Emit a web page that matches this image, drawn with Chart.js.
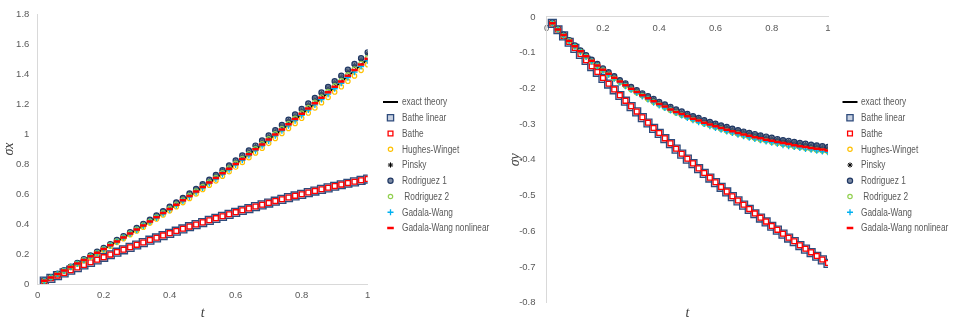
<!DOCTYPE html>
<html>
<head>
<meta charset="utf-8">
<script src="https://cdn.jsdelivr.net/npm/chart.js@4.4.1/dist/chart.umd.min.js"></script>
<style>
  html, body { margin: 0; padding: 0; background: #ffffff; }
  #wrap { position: relative; width: 956px; height: 323px; overflow: hidden; background: #ffffff; }
  #chartX { position: absolute; left: 0; top: 0; }
  #chartY { position: absolute; left: 505px; top: 0; }
</style>
</head>
<body>
<div id="wrap">
  <canvas id="chartX" width="505" height="323" style="width:505px;height:323px"></canvas>
  <canvas id="chartY" width="451" height="323" style="width:451px;height:323px"></canvas>
</div>
<script>
// time samples
const t = [0.02,0.04,0.06,0.08,0.10,0.12,0.14,0.16,0.18,0.20,0.22,0.24,0.26,0.28,0.30,0.32,0.34,0.36,0.38,0.40,
           0.42,0.44,0.46,0.48,0.50,0.52,0.54,0.56,0.58,0.60,0.62,0.64,0.66,0.68,0.70,0.72,0.74,0.76,0.78,0.80,
           0.82,0.84,0.86,0.88,0.90,0.92,0.94,0.96,0.98,1.00];

const seriesNames = ['exact theory', 'Bathe linear', 'Bathe', 'Hughes-Winget', 'Pinsky',
                     'Rodriguez 1', ' Rodriguez 2', 'Gadala-Wang', 'Gadala-Wang nonlinear'];

// sigma x
const sxExact = [0.022,0.044,0.067,0.089,0.113,0.136,0.160,0.184,0.209,0.233,0.258,0.284,0.310,0.336,0.362,0.389,0.416,0.444,0.472,0.500,
                 0.528,0.557,0.586,0.616,0.646,0.676,0.706,0.737,0.768,0.800,0.832,0.864,0.896,0.929,0.962,0.996,1.030,1.064,1.098,1.133,
                 1.169,1.204,1.240,1.276,1.313,1.349,1.387,1.424,1.462,1.500];
const sxBatheLinear = [0.019,0.037,0.056,0.074,0.092,0.109,0.127,0.144,0.161,0.178,0.195,0.212,0.228,0.244,0.260,0.276,0.292,0.307,0.323,0.338,
                       0.352,0.367,0.382,0.396,0.410,0.424,0.438,0.451,0.464,0.478,0.491,0.503,0.516,0.528,0.540,0.552,0.564,0.576,0.587,0.598,
                       0.609,0.620,0.631,0.641,0.652,0.662,0.672,0.681,0.691,0.700];
const sxBathe = [0.019,0.038,0.056,0.074,0.092,0.110,0.127,0.145,0.162,0.179,0.196,0.213,0.229,0.245,0.261,0.277,0.293,0.308,0.324,0.339,
                 0.353,0.368,0.383,0.397,0.411,0.425,0.439,0.452,0.465,0.479,0.492,0.504,0.517,0.529,0.541,0.553,0.565,0.577,0.588,0.599,
                 0.610,0.621,0.632,0.642,0.653,0.663,0.673,0.682,0.692,0.701];
const sxHughesWinget = [0.021,0.043,0.065,0.087,0.110,0.133,0.156,0.179,0.204,0.227,0.252,0.277,0.302,0.328,0.353,0.379,0.406,0.433,0.460,0.488,
                        0.515,0.543,0.571,0.601,0.630,0.659,0.688,0.719,0.749,0.780,0.811,0.842,0.874,0.906,0.938,0.971,1.004,1.037,1.071,1.105,
                        1.140,1.174,1.209,1.244,1.280,1.315,1.352,1.388,1.425,1.463];
const sxPinsky = [0.023,0.045,0.069,0.091,0.116,0.139,0.164,0.188,0.214,0.239,0.264,0.291,0.317,0.344,0.371,0.398,0.426,0.455,0.483,0.512,
                  0.541,0.570,0.600,0.631,0.662,0.692,0.723,0.755,0.786,0.819,0.852,0.885,0.918,0.951,0.985,1.020,1.055,1.090,1.124,1.160,
                  1.197,1.233,1.270,1.307,1.345,1.381,1.420,1.458,1.497,1.536];
const sxRodriguez1 = [0.023,0.045,0.069,0.092,0.116,0.140,0.165,0.190,0.215,0.240,0.266,0.293,0.319,0.346,0.373,0.401,0.428,0.457,0.486,0.515,
                      0.544,0.574,0.604,0.634,0.665,0.696,0.727,0.759,0.791,0.824,0.857,0.890,0.923,0.957,0.991,1.026,1.061,1.096,1.131,1.167,
                      1.204,1.240,1.277,1.314,1.352,1.389,1.429,1.467,1.506,1.545];
const sxRodriguez2 = [0.022,0.044,0.067,0.090,0.114,0.137,0.161,0.185,0.210,0.234,0.260,0.286,0.312,0.338,0.364,0.391,0.418,0.447,0.475,0.503,
                      0.531,0.560,0.590,0.620,0.650,0.680,0.710,0.741,0.773,0.805,0.837,0.869,0.901,0.935,0.968,1.002,1.036,1.070,1.105,1.140,
                      1.176,1.211,1.247,1.284,1.321,1.357,1.395,1.433,1.471,1.509];
const sxGadalaWang = [0.022,0.044,0.066,0.088,0.112,0.135,0.159,0.183,0.207,0.231,0.256,0.282,0.308,0.333,0.359,0.386,0.413,0.440,0.468,0.496,
                      0.524,0.553,0.581,0.611,0.641,0.671,0.700,0.731,0.762,0.794,0.825,0.857,0.889,0.922,0.954,0.988,1.022,1.055,1.089,1.124,
                      1.160,1.194,1.230,1.266,1.302,1.338,1.376,1.413,1.450,1.488];
const sxGadalaWangNonlinear = [0.022,0.044,0.067,0.090,0.113,0.137,0.160,0.185,0.209,0.234,0.259,0.284,0.310,0.336,0.363,0.390,0.417,0.445,0.473,0.501,
                               0.529,0.558,0.587,0.617,0.647,0.677,0.707,0.738,0.769,0.801,0.833,0.865,0.898,0.930,0.964,0.997,1.031,1.066,1.100,1.135,
                               1.171,1.206,1.242,1.278,1.315,1.351,1.389,1.427,1.464,1.503];

// sigma y
const syExact = [-0.018,-0.035,-0.051,-0.066,-0.081,-0.095,-0.109,-0.122,-0.134,-0.146,-0.158,-0.169,-0.179,-0.189,-0.199,-0.208,-0.217,-0.226,-0.234,-0.241,
                 -0.249,-0.256,-0.263,-0.269,-0.276,-0.282,-0.288,-0.293,-0.298,-0.303,-0.308,-0.313,-0.317,-0.322,-0.326,-0.330,-0.333,-0.337,-0.340,-0.344,
                 -0.347,-0.350,-0.353,-0.355,-0.358,-0.361,-0.363,-0.365,-0.368,-0.370];
const syBatheLinear = [-0.018,-0.036,-0.053,-0.071,-0.088,-0.105,-0.122,-0.139,-0.155,-0.172,-0.188,-0.204,-0.220,-0.236,-0.251,-0.266,-0.282,-0.297,-0.312,-0.326,
                       -0.341,-0.355,-0.370,-0.384,-0.398,-0.411,-0.425,-0.438,-0.451,-0.464,-0.477,-0.490,-0.503,-0.515,-0.527,-0.539,-0.551,-0.563,-0.574,-0.586,
                       -0.597,-0.608,-0.619,-0.629,-0.640,-0.650,-0.660,-0.670,-0.680,-0.690];
const syBathe = [-0.018,-0.035,-0.053,-0.070,-0.087,-0.104,-0.121,-0.138,-0.154,-0.171,-0.187,-0.203,-0.219,-0.235,-0.250,-0.265,-0.281,-0.296,-0.311,-0.325,
                 -0.340,-0.354,-0.369,-0.383,-0.397,-0.410,-0.424,-0.437,-0.450,-0.463,-0.476,-0.489,-0.502,-0.514,-0.526,-0.538,-0.550,-0.562,-0.573,-0.585,
                 -0.596,-0.607,-0.618,-0.628,-0.639,-0.649,-0.659,-0.669,-0.679,-0.689];
const syHughesWinget = [-0.018,-0.035,-0.052,-0.067,-0.082,-0.097,-0.111,-0.124,-0.137,-0.149,-0.161,-0.172,-0.182,-0.193,-0.203,-0.212,-0.221,-0.230,-0.238,-0.246,
                        -0.253,-0.261,-0.268,-0.274,-0.281,-0.287,-0.293,-0.298,-0.304,-0.309,-0.314,-0.319,-0.323,-0.327,-0.332,-0.336,-0.339,-0.343,-0.346,-0.350,
                        -0.353,-0.356,-0.359,-0.362,-0.365,-0.367,-0.370,-0.372,-0.374,-0.377];
const syPinsky = [-0.017,-0.034,-0.050,-0.065,-0.080,-0.094,-0.108,-0.121,-0.133,-0.145,-0.156,-0.167,-0.177,-0.187,-0.197,-0.206,-0.215,-0.223,-0.231,-0.239,
                  -0.246,-0.253,-0.260,-0.267,-0.273,-0.279,-0.284,-0.290,-0.295,-0.300,-0.305,-0.309,-0.314,-0.318,-0.322,-0.326,-0.330,-0.333,-0.337,-0.340,
                  -0.343,-0.346,-0.349,-0.352,-0.354,-0.357,-0.359,-0.361,-0.364,-0.366];
const syRodriguez1 = [-0.017,-0.034,-0.050,-0.065,-0.080,-0.094,-0.107,-0.120,-0.132,-0.144,-0.155,-0.166,-0.177,-0.186,-0.196,-0.205,-0.214,-0.222,-0.230,-0.238,
                      -0.245,-0.252,-0.259,-0.265,-0.272,-0.278,-0.283,-0.289,-0.294,-0.299,-0.304,-0.308,-0.313,-0.317,-0.321,-0.325,-0.328,-0.332,-0.335,-0.338,
                      -0.342,-0.345,-0.347,-0.350,-0.353,-0.355,-0.358,-0.360,-0.362,-0.364];
const syRodriguez2 = [-0.018,-0.035,-0.052,-0.067,-0.083,-0.097,-0.111,-0.124,-0.137,-0.149,-0.161,-0.172,-0.183,-0.193,-0.203,-0.212,-0.221,-0.230,-0.238,-0.246,
                      -0.254,-0.261,-0.268,-0.275,-0.281,-0.287,-0.293,-0.299,-0.304,-0.309,-0.314,-0.319,-0.324,-0.328,-0.332,-0.336,-0.340,-0.344,-0.347,-0.351,
                      -0.354,-0.357,-0.360,-0.363,-0.365,-0.368,-0.370,-0.373,-0.375,-0.377];
const syGadalaWang = [-0.018,-0.035,-0.052,-0.068,-0.083,-0.098,-0.112,-0.125,-0.138,-0.150,-0.162,-0.173,-0.184,-0.194,-0.204,-0.213,-0.223,-0.231,-0.240,-0.248,
                      -0.255,-0.262,-0.269,-0.276,-0.283,-0.289,-0.295,-0.300,-0.306,-0.311,-0.316,-0.321,-0.325,-0.330,-0.334,-0.338,-0.342,-0.345,-0.349,-0.352,
                      -0.355,-0.359,-0.362,-0.364,-0.367,-0.370,-0.372,-0.375,-0.377,-0.379];
const syGadalaWangNonlinear = [-0.018,-0.035,-0.051,-0.067,-0.082,-0.096,-0.110,-0.123,-0.136,-0.148,-0.159,-0.170,-0.181,-0.191,-0.201,-0.210,-0.219,-0.228,-0.236,-0.244,
                               -0.251,-0.259,-0.266,-0.272,-0.278,-0.285,-0.290,-0.296,-0.301,-0.306,-0.311,-0.316,-0.320,-0.325,-0.329,-0.333,-0.337,-0.340,-0.344,-0.347,
                               -0.350,-0.353,-0.356,-0.359,-0.362,-0.364,-0.367,-0.369,-0.371,-0.374];

// tick settings
const xTicks = { min: 0, max: 1, step: 0.2 };
const sxTicks = { min: 0, max: 1.8, step: 0.2 };
const syTicks = { min: -0.8, max: 0, step: 0.1 };

// marker styles, in series order
const markerStyles = [
  { line: true, color: '#000000', width: 2 },
  { pointStyle: 'rect',   radius: 5.6, border: '#2E4B7C', fill: 'rgba(186,198,218,0.8)', bw: 1.3 },
  { pointStyle: 'rect',   radius: 3.4, border: '#FF0000', fill: '#FFFFFF', bw: 1.3 },
  { pointStyle: 'circle', radius: 2.2, border: '#FFC000', fill: 'rgba(255,255,255,0)', bw: 1.2 },
  { pointStyle: 'star',   radius: 2.6, border: '#000000', fill: 'rgba(0,0,0,0)', bw: 1.0 },
  { pointStyle: 'circle', radius: 2.6, border: '#203864', fill: 'rgba(80,100,135,0.75)', bw: 1.2 },
  { pointStyle: 'circle', radius: 2.2, border: '#92D050', fill: 'rgba(255,255,255,0)', bw: 1.2 },
  { pointStyle: 'cross',  radius: 3.0, border: '#00B0F0', fill: 'rgba(0,0,0,0)', bw: 1.3 },
  { pointStyle: 'line',   radius: 3.3, border: '#FF0000', fill: 'rgba(0,0,0,0)', bw: 2.5 }
];

const textGray = '#595959';
const axisGray = '#D9D9D9';
const tickFont = { family: "'Liberation Sans', sans-serif", size: 9.5 };
const titleFont = { family: "'Liberation Serif', 'DejaVu Serif', serif", size: 14, style: 'italic' };
const legendFontCss = "10px 'Liberation Sans', sans-serif";
const legendSquash = 0.83;

// "1" rather than "1.0", "-0.1" for negatives
function tickText(value) {
  return String(parseFloat(Number(value).toFixed(2)));
}

function buildDatasets(seriesList) {
  const n = seriesList.length;
  return seriesList.map((values, i) => {
    const s = markerStyles[i];
    const data = t.map((x, k) => ({ x: x, y: values[k] }));
    if (s.line) {
      return {
        label: seriesNames[i], data, showLine: true, borderColor: s.color,
        borderWidth: s.width, pointRadius: 0, tension: 0, order: n - i, isLine: true
      };
    }
    return {
      label: seriesNames[i], data, showLine: false,
      pointStyle: s.pointStyle, pointRadius: s.radius, pointHoverRadius: s.radius,
      pointBorderColor: s.border, pointBackgroundColor: s.fill, pointBorderWidth: s.bw,
      borderColor: s.border, backgroundColor: s.fill, order: n - i
    };
  });
}

// legend drawn beside each plot: symbol column plus label column
const sideLegend = {
  id: 'sideLegend',
  afterDraw(chart, args, opts) {
    const ctx = chart.ctx;
    ctx.save();
    chart.data.datasets.forEach((ds, i) => {
      const y = opts.top + i * opts.step;
      if (ds.isLine) {
        ctx.strokeStyle = ds.borderColor;
        ctx.lineWidth = ds.borderWidth;
        ctx.beginPath();
        ctx.moveTo(opts.symX - 7.5, y);
        ctx.lineTo(opts.symX + 7.5, y);
        ctx.stroke();
      } else {
        ctx.strokeStyle = ds.pointBorderColor;
        ctx.fillStyle = ds.pointBackgroundColor;
        ctx.lineWidth = ds.pointBorderWidth;
        Chart.helpers.drawPoint(ctx, {
          pointStyle: ds.pointStyle, radius: Math.min(ds.pointRadius, 4.4),
          borderWidth: ds.pointBorderWidth, rotation: 0
        }, opts.symX, y);
      }
      ctx.save();
      ctx.translate(opts.textX, y + 0.5);
      ctx.scale(legendSquash, 1);
      ctx.font = legendFontCss;
      ctx.textBaseline = 'middle';
      ctx.textAlign = 'left';
      ctx.fillStyle = textGray;
      ctx.fillText(ds.label, 0, 0);
      ctx.restore();
    });
    ctx.restore();
  }
};

// sigma x chart
new Chart(document.getElementById('chartX'), {
  type: 'scatter',
  data: {
    datasets: buildDatasets([sxExact, sxBatheLinear, sxBathe, sxHughesWinget, sxPinsky,
                             sxRodriguez1, sxRodriguez2, sxGadalaWang, sxGadalaWangNonlinear])
  },
  options: {
    responsive: false,
    animation: false,
    events: [],
    layout: { padding: { left: 0, right: 137.3, top: 10, bottom: 0 } },
    plugins: {
      legend: { display: false },
      tooltip: { enabled: false },
      sideLegend: { top: 102, step: 15.75, symX: 390.5, textX: 402 }
    },
    scales: {
      x: {
        type: 'linear', min: xTicks.min, max: xTicks.max,
        ticks: { stepSize: xTicks.step, color: textGray, font: tickFont, padding: 6, maxRotation: 0, callback: tickText },
        grid: { display: false, drawTicks: false },
        border: { display: true, color: axisGray, width: 1 },
        title: { display: true, text: 't', color: '#404040', font: titleFont, padding: { top: 0, bottom: 1.6 } },
        afterFit(scale) { scale.height = 39; }
      },
      y: {
        type: 'linear', min: sxTicks.min, max: sxTicks.max,
        ticks: { stepSize: sxTicks.step, color: textGray, font: tickFont, padding: 8.4, callback: tickText },
        grid: { display: false, drawTicks: false },
        border: { display: true, color: axisGray, width: 1 },
        title: { display: true, text: 'σx', color: '#404040', font: titleFont, padding: { top: 1.0, bottom: 0 } },
        afterFit(scale) { scale.width = 37.7; }
      }
    }
  },
  plugins: [sideLegend]
});

// sigma y chart: horizontal axis sits on the zero line at the top
new Chart(document.getElementById('chartY'), {
  type: 'scatter',
  data: {
    datasets: buildDatasets([syExact, syBatheLinear, syBathe, syHughesWinget, syPinsky,
                             syRodriguez1, syRodriguez2, syGadalaWang, syGadalaWangNonlinear])
  },
  options: {
    responsive: false,
    animation: false,
    events: [],
    layout: { padding: { left: 0, right: 128, top: 9.3, bottom: 0 } },
    plugins: {
      legend: { display: false },
      tooltip: { enabled: false },
      sideLegend: { top: 102, step: 15.75, symX: 345, textX: 356 }
    },
    scales: {
      x: {
        type: 'linear', min: xTicks.min, max: xTicks.max,
        position: { y: 0 },
        ticks: { stepSize: xTicks.step, color: textGray, font: tickFont, padding: 5.6, maxRotation: 0, callback: tickText },
        grid: { display: false, drawTicks: false },
        border: { display: true, color: axisGray, width: 1 },
        title: { display: false }
      },
      xTitle: {
        type: 'linear', axis: 'x', position: 'bottom', min: xTicks.min, max: xTicks.max,
        ticks: { display: false },
        grid: { display: false, drawTicks: false },
        border: { display: false },
        title: { display: true, text: 't', color: '#404040', font: titleFont, padding: { top: 0, bottom: 1.6 } },
        afterFit(scale) { scale.height = 20.3; }
      },
      y: {
        type: 'linear', min: syTicks.min, max: syTicks.max,
        ticks: { stepSize: syTicks.step, color: textGray, font: tickFont, padding: 11.2, callback: tickText },
        grid: { display: false, drawTicks: false },
        border: { display: true, color: axisGray, width: 1 },
        title: { display: true, text: 'σy', color: '#404040', font: titleFont, padding: { top: 2.4, bottom: 0 } },
        afterFit(scale) { scale.width = 41.7; }
      }
    }
  },
  plugins: [sideLegend]
});
</script>
</body>
</html>
